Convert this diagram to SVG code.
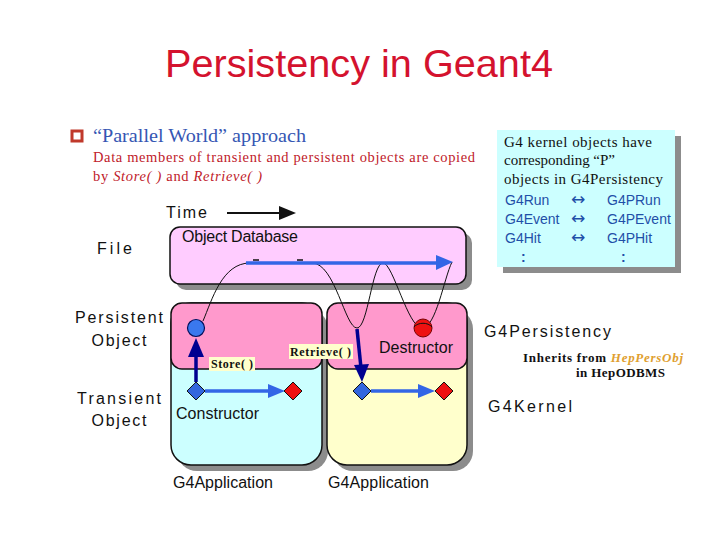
<svg xmlns="http://www.w3.org/2000/svg" width="720" height="540" viewBox="0 0 720 540">
<style>
.sans{font-family:"Liberation Sans",Arial,sans-serif}
.serif{font-family:"Liberation Serif","Times New Roman",serif}
.lbl{font-family:"Liberation Sans",Arial,sans-serif;font-size:16px;fill:#111}
.blue{font-family:"Liberation Sans",Arial,sans-serif;font-size:14px;fill:#1f4fa8}
.arr{font-family:"DejaVu Sans",sans-serif;font-size:17px;fill:#1f4fa8}
.shadow{fill:#8c8c8c}
.panel{stroke:#111;stroke-width:1.5}
.curve{fill:none;stroke:#111;stroke-width:1}
.bl{stroke:#3366e6;stroke-width:3.5;fill:none}
.blh{fill:#3366e6}
.navy{stroke:#000090;stroke-width:3.5;fill:none}
.navyh{fill:#000090}
.tag{fill:#ffffcc}
.tagt{font-family:"Liberation Serif","Times New Roman",serif;font-weight:bold;font-size:12px;fill:#111}
</style>
<rect width="720" height="540" fill="#fff"/>
<text class="sans" x="359" y="77" text-anchor="middle" font-size="39" fill="#d4122e" textLength="388" lengthAdjust="spacingAndGlyphs">Persistency in Geant4</text>

<g id="bullet">
<rect x="72" y="131" width="10" height="10" fill="#fff" stroke="#c0392b" stroke-width="3"/>
<text class="serif" x="93" y="142" font-size="19" fill="#3556b3" textLength="213" lengthAdjust="spacingAndGlyphs">“Parallel World” approach</text>
<text class="serif" x="93" y="162" font-size="14.5" fill="#c0202a" textLength="382" lengthAdjust="spacing">Data members of transient and persistent objects are copied</text>
<text class="serif" x="93" y="181" font-size="14.5" fill="#c0202a" textLength="169" lengthAdjust="spacing">by <tspan font-style="italic">Store( )</tspan> and <tspan font-style="italic">Retrieve( )</tspan></text>
</g>

<g id="infobox">
<rect class="shadow" x="503" y="136" width="178" height="137"/>
<rect x="497" y="130" width="178" height="137" fill="#ccffff"/>
<g class="serif" font-size="15" fill="#111">
<text x="504" y="147" textLength="148" lengthAdjust="spacing">G4 kernel objects have</text>
<text x="504" y="165" textLength="111" lengthAdjust="spacing">corresponding “P”</text>
<text x="504" y="184" textLength="159" lengthAdjust="spacing">objects in G4Persistency</text>
</g>
<text class="blue" x="505" y="205">G4Run</text><text class="arr" x="571" y="205">↔</text><text class="blue" x="607" y="205">G4PRun</text>
<text class="blue" x="505" y="224">G4Event</text><text class="arr" x="571" y="224">↔</text><text class="blue" x="607" y="224">G4PEvent</text>
<text class="blue" x="505" y="243">G4Hit</text><text class="arr" x="571" y="243">↔</text><text class="blue" x="607" y="243">G4PHit</text>
<text class="blue" x="521" y="262" font-weight="bold">:</text><text class="blue" x="621" y="262" font-weight="bold">:</text>
</g>

<g id="time">
<text class="lbl" x="166" y="218" font-size="15" textLength="41" lengthAdjust="spacing">Time</text>
<line x1="227" y1="213" x2="282" y2="213" stroke="#111" stroke-width="2"/>
<polygon points="279,206 296,213 279,220" fill="#111"/>
</g>

<g id="labels">
<text class="lbl" x="97" y="254" font-size="17" textLength="35" lengthAdjust="spacing">File</text>
<text class="lbl" x="119" y="323" font-size="17" text-anchor="middle" textLength="88" lengthAdjust="spacing">Persistent</text>
<text class="lbl" x="119" y="346" font-size="17" text-anchor="middle" textLength="55" lengthAdjust="spacing">Object</text>
<text class="lbl" x="119" y="404" font-size="17" text-anchor="middle" textLength="84" lengthAdjust="spacing">Transient</text>
<text class="lbl" x="119" y="426" font-size="17" text-anchor="middle" textLength="55" lengthAdjust="spacing">Object</text>
<text class="lbl" x="484" y="337" font-size="17" textLength="127" lengthAdjust="spacing">G4Persistency</text>
<text class="lbl" x="488" y="412" font-size="17" textLength="84" lengthAdjust="spacing">G4Kernel</text>
<text class="serif" x="523" y="362" font-size="13" font-weight="bold" fill="#111" textLength="160" lengthAdjust="spacing">Inherits from <tspan fill="#e0a030" font-style="italic">HepPersObj</tspan></text>
<text class="serif" x="576" y="377" font-size="13" font-weight="bold" fill="#111" textLength="89" lengthAdjust="spacing">in HepODBMS</text>
</g>

<g id="database">
<rect class="shadow" x="176" y="233" width="296" height="57" rx="10"/>
<rect class="panel" x="170" y="227" width="296" height="57" rx="10" fill="#ffccff"/>
<text class="lbl" x="182" y="242" font-size="15" textLength="116" lengthAdjust="spacing">Object Database</text>
</g>

<g id="app1">
<rect class="shadow" x="177" y="309" width="151" height="162" rx="20"/>
<rect class="panel" x="171" y="303" width="151" height="162" rx="20" fill="#ccffff"/>
<rect class="panel" x="171" y="303" width="151" height="66" rx="11" fill="#ff99cc"/>
<text class="lbl" x="176" y="419" font-size="15" textLength="83" lengthAdjust="spacing">Constructor</text>
<text class="lbl" x="173" y="488" font-size="15" textLength="100" lengthAdjust="spacing">G4Application</text>
</g>

<g id="app2">
<rect class="shadow" x="333" y="309" width="140" height="162" rx="20"/>
<rect class="panel" x="327" y="303" width="140" height="162" rx="20" fill="#ffffcc"/>
<rect class="panel" x="327" y="303" width="140" height="66" rx="11" fill="#ff99cc"/>
<text class="lbl" x="379" y="353" font-size="15" textLength="74" lengthAdjust="spacing">Destructor</text>
<text class="lbl" x="328" y="488" font-size="15" textLength="101" lengthAdjust="spacing">G4Application</text>
</g>

<g id="connectors">
<path class="curve" d="M203 321 C212 300 222 263 250 263 L312 263 C335 263 345 328 357 328 C368 328 372 263 383 263 C393 263 408 328 422 328 C436 328 444 278 452 262"/>
<line class="bl" x1="246" y1="263" x2="438" y2="263"/>
<polygon class="blh" points="436,255 453,262 436,270"/>
<line x1="253" y1="260" x2="259" y2="260" stroke="#111" stroke-width="1.5"/>
<line x1="297" y1="260" x2="303" y2="260" stroke="#111" stroke-width="1.5"/>
<line class="navy" x1="196" y1="382" x2="196" y2="354"/>
<polygon class="navyh" points="188,357 196,338 204,357"/>
<line class="navy" x1="357" y1="329" x2="361" y2="368"/>
<polygon class="navyh" points="354,365 369,364 362,382"/>
<line class="bl" x1="205" y1="391" x2="271" y2="391"/>
<polygon class="blh" points="268,384 285,391 268,398"/>
<line class="bl" x1="371" y1="391" x2="421" y2="391"/>
<polygon class="blh" points="418,384 435,391 418,398"/>
</g>

<g id="objects">
<circle cx="196" cy="328" r="8.5" fill="#3a78ee" stroke="#00105a" stroke-width="1.2"/>
<circle cx="423" cy="328" r="9" fill="#ee1111" stroke="#700" stroke-width="1"/>
<path class="curve" d="M414 327 C418 322 428 322 432 327"/>
<polygon points="196,382 205,391 196,400 187,391" fill="#3366dd" stroke="#111" stroke-width="1"/>
<polygon points="293,382 302,391 293,400 284,391" fill="#ee1111" stroke="#111" stroke-width="1"/>
<polygon points="362,382 371,391 362,400 353,391" fill="#3366dd" stroke="#111" stroke-width="1"/>
<polygon points="444,382 453,391 444,400 435,391" fill="#ee1111" stroke="#111" stroke-width="1"/>
</g>

<g id="tags">
<rect class="tag" x="209" y="357" width="46" height="14"/>
<text class="tagt" x="211" y="368" textLength="42" lengthAdjust="spacing">Store( )</text>
<rect class="tag" x="289" y="344" width="64" height="15"/>
<text class="tagt" x="290" y="356" textLength="61" lengthAdjust="spacing">Retrieve( )</text>
</g>
</svg>
